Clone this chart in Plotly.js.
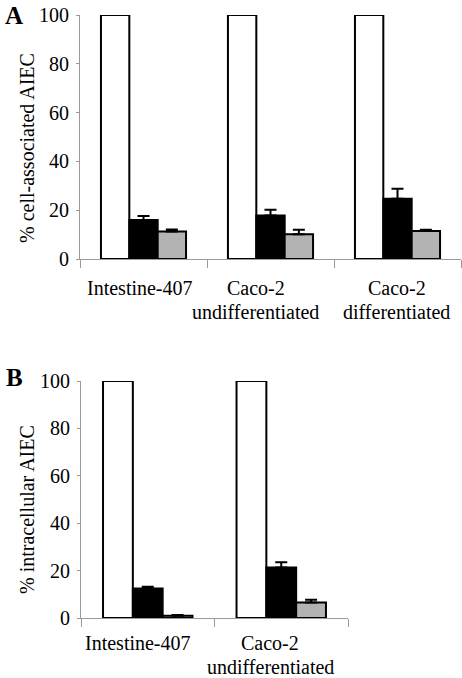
<!DOCTYPE html>
<html>
<head>
<meta charset="utf-8">
<script src="https://cdn.plot.ly/plotly-3.0.1.min.js"></script>
<style>html,body{margin:0;padding:0;background:#fff;}#chart{width:462px;height:678px;}</style>
</head>
<body>
<div id="chart"></div>
<script>
// Panel A: % cell-associated AIEC
const catsA = ["Intestine-407", "Caco-2<br>undifferentiated", "Caco-2<br>differentiated"];
const whiteA = [100, 100, 100];
const blackA = [16.0, 17.8, 24.7];
const blackErrA = [1.6, 2.4, 4.1];
const grayA = [11.3, 10.1, 11.5];
const grayErrA = [0.8, 1.9, 0.5];
const titleA = "% cell-associated AIEC";

// Panel B: % intracellular AIEC
const catsB = ["Intestine-407", "Caco-2<br>undifferentiated"];
const whiteB = [100, 100];
const blackB = [12.4, 21.3];
const blackErrB = [0.8, 2.2];
const grayB = [1.0, 6.5];
const grayErrB = [0.3, 1.2];
const titleB = "% intracellular AIEC";

const W = 462, H = 678;
const FONT = "Liberation Serif";
const FS = 20;
const AXIS_GRAY = "#9a9a9a";
const GRAY_FILL = "#b3b3b3";

function bar(x, y, fill, err, xa, ya) {
  const t = {
    type: "bar", x: x, y: y, xaxis: xa, yaxis: ya,
    marker: {color: fill, line: {color: "#000", width: 2}},
    showlegend: false, hoverinfo: "skip"
  };
  if (err) {
    t.error_y = {type: "data", symmetric: false, array: err,
      arrayminus: err.map(() => 0), color: "#000", thickness: 2, width: 6};
  }
  return t;
}

const data = [
  bar(catsA, whiteA, "#ffffff", null, "x", "y"),
  bar(catsA, blackA, "#000000", blackErrA, "x", "y"),
  bar(catsA, grayA, GRAY_FILL, grayErrA, "x", "y"),
  bar(catsB, whiteB, "#ffffff", null, "x2", "y2"),
  bar(catsB, blackB, "#000000", blackErrB, "x2", "y2"),
  bar(catsB, grayB, GRAY_FILL, grayErrB, "x2", "y2")
];

function xax(domain, anchor) {
  return {
    domain: domain, anchor: anchor, type: "category",
    showline: true, linecolor: AXIS_GRAY, linewidth: 1,
    ticks: "outside", tickson: "boundaries", ticklen: 8, tickcolor: AXIS_GRAY, tickwidth: 1,
    showgrid: false, zeroline: false, fixedrange: true, showticklabels: false
  };
}
function yax(domain, anchor) {
  return {
    domain: domain, anchor: anchor, range: [0, 100],
    tickvals: [0, 20, 40, 60, 80, 100],
    showline: true, linecolor: AXIS_GRAY, linewidth: 1,
    ticks: "outside", ticklen: 3, tickcolor: AXIS_GRAY, tickwidth: 1,
    showgrid: false, zeroline: false, fixedrange: true,
    tickfont: {family: FONT, size: FS, color: "#000"},
    ticklabelstandoff: 3
  };
}

function ytitle(text, yc) {
  return {text: text, x: 27 / W, y: 1 - yc / H, xref: "paper", yref: "paper",
    xanchor: "center", yanchor: "middle", textangle: -90, showarrow: false,
    font: {family: FONT, size: FS, color: "#000"}};
}
// category label lines placed under their category on the given x axis
function xlabels(cat, xref, topPx, shift) {
  return cat.split("<br>").map((line, k) => ({
    text: line, x: cat, xref: xref, y: 1 - (topPx + k * 24) / H, yref: "paper",
    xanchor: "center", yanchor: "top", xshift: shift, showarrow: false,
    borderpad: 0, font: {family: FONT, size: FS, color: "#000"}}));
}

const shiftsA = [-4, -15, -1];
const shiftsB = [-10, -11];

let annotations = [
  ytitle(titleA, 148),
  ytitle(titleB, 510),
  {text: "<b>A</b>", x: 3 / W, y: 1 - 0 / H, xref: "paper", yref: "paper",
   xanchor: "left", yanchor: "top", showarrow: false,
   font: {family: FONT, size: 25, color: "#000"}},
  {text: "<b>B</b>", x: 4 / W, y: 1 - 362 / H, xref: "paper", yref: "paper",
   xanchor: "left", yanchor: "top", showarrow: false,
   font: {family: FONT, size: 25, color: "#000"}}
];
catsA.forEach((c, i) => { annotations = annotations.concat(xlabels(c, "x", 276, shiftsA[i])); });
catsB.forEach((c, i) => { annotations = annotations.concat(xlabels(c, "x2", 631, shiftsB[i])); });

const layout = {
  width: W, height: H,
  margin: {l: 0, r: 0, t: 0, b: 0, autoexpand: false},
  paper_bgcolor: "#fff", plot_bgcolor: "#fff",
  barmode: "group", bargap: 0.33, bargroupgap: 0,
  showlegend: false,
  xaxis: xax([80 / W, 461 / W], "y"),
  yaxis: yax([1 - 259 / H, 1 - 15 / H], "x"),
  xaxis2: xax([81 / W, 348 / W], "y2"),
  yaxis2: yax([1 - 618 / H, 1 - 381 / H], "x2"),
  annotations: annotations
};

Plotly.newPlot("chart", data, layout, {displayModeBar: false, staticPlot: true});
</script>
</body>
</html>
